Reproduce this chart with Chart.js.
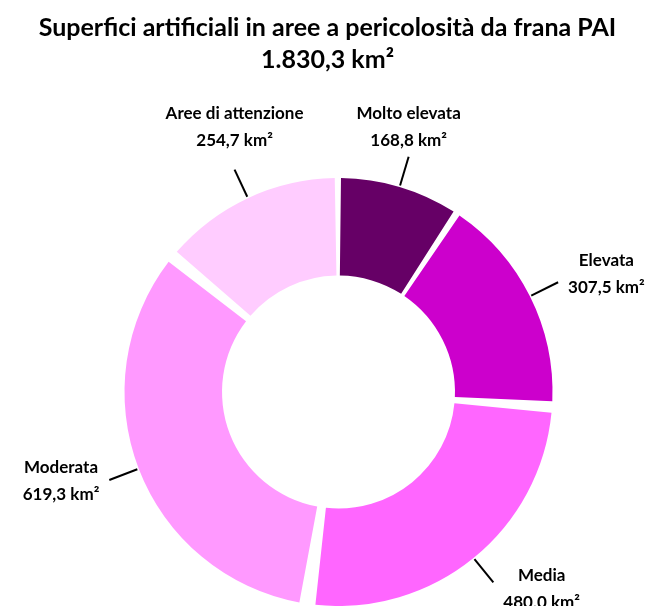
<!DOCTYPE html>
<html>
<head>
<meta charset="utf-8">
<script src="https://cdn.jsdelivr.net/npm/chart.js@4.4.1/dist/chart.umd.min.js"></script>
<style>
  html, body { margin: 0; padding: 0; background: #fff; }
  #wrap { position: relative; width: 655px; height: 606px; overflow: hidden; }
  #title {
    position: absolute; left: 0; top: 10px; width: 655px;
    text-align: center; font: bold 25px Lato, sans-serif; line-height: 32px; color: #000;
  }
  canvas { position: absolute; left: 0; top: 0; }
</style>
</head>
<body>
<div id="wrap">
  <canvas id="chartFrana" width="655" height="606"></canvas>
  <div id="title"></div>
</div>
<script>
const categories = ['Molto elevata', 'Elevata', 'Media', 'Moderata', 'Aree di attenzione'];
const values = [168.8, 307.5, 480.0, 619.3, 254.7];
const sliceColors = ['#660066', '#CC00CC', '#FF66FF', '#FF99FF', '#FFCCFF'];
const unit = 'km²';

// 1234.5 -> "1.234,5"
function formatIt(v) {
  const parts = v.toFixed(1).split('.');
  parts[0] = parts[0].replace(/\B(?=(\d{3})+(?!\d))/g, '.');
  return parts.join(',');
}

const total = values.reduce((a, b) => a + b, 0);
document.getElementById('title').innerHTML =
  'Superfici artificiali in aree a pericolosità da frana PAI<br>' + formatIt(total) + ' ' + unit;

// Leader lines and two-line labels outside each slice
const outsideLabels = {
  id: 'outsideLabels',
  afterDatasetsDraw(chart) {
    const ctx = chart.ctx;
    const meta = chart.getDatasetMeta(0);
    const lineH = 27;
    const blockH = lineH * 2;

    const items = meta.data.map((arc, i) => {
      const mid = (arc.startAngle + arc.endAngle) / 2;
      const cx = Math.cos(mid), cy = Math.sin(mid);
      const r0 = arc.outerRadius + 8, r1 = arc.outerRadius + 38;
      return {
        i, cx, cy,
        x0: arc.x + cx * r0, y0: arc.y + cy * r0,
        px: arc.x + cx * r1, py: arc.y + cy * r1,
        side: Math.abs(cx) > 0.5
      };
    });
    // labels above the ring share one row
    const topEnds = items.filter(it => !it.side && it.cy < 0).map(it => it.py);
    const topRow = topEnds.length ? Math.min(...topEnds) - 3 : 0;

    ctx.save();
    ctx.font = 'bold 17px Lato, sans-serif';
    ctx.fillStyle = '#000';
    ctx.strokeStyle = '#000';
    ctx.lineWidth = 2;
    ctx.textBaseline = 'middle';
    ctx.textAlign = 'center';
    items.forEach(it => {
      ctx.beginPath();
      ctx.moveTo(it.x0, it.y0);
      ctx.lineTo(it.px, it.py);
      ctx.stroke();

      const lines = [categories[it.i], formatIt(values[it.i]) + ' ' + unit];
      const w = Math.max(...lines.map(t => ctx.measureText(t).width));
      let x, midY;
      if (it.side) {
        x = it.cx > 0 ? it.px + 10 + w / 2 : it.px - 10 - w / 2;
        midY = it.py + it.cy * 12 - 3;
      } else {
        x = it.px;
        midY = it.cy < 0 ? topRow - blockH / 2 : it.py + 4 + blockH / 2;
      }
      ctx.fillText(lines[0], x, midY - lineH / 2);
      ctx.fillText(lines[1], x, midY + lineH / 2);
    });
    ctx.restore();
  }
};

new Chart(document.getElementById('chartFrana'), {
  type: 'doughnut',
  data: {
    labels: categories,
    datasets: [{
      data: values,
      backgroundColor: sliceColors,
      borderWidth: 0
    }]
  },
  options: {
    responsive: false,
    animation: false,
    cutout: '53%',
    spacing: 13,
    layout: { padding: { top: 178, left: 123, right: 101, bottom: 0 } },
    plugins: {
      legend: { display: false },
      tooltip: { enabled: false }
    }
  },
  plugins: [outsideLabels]
});
</script>
</body>
</html>
